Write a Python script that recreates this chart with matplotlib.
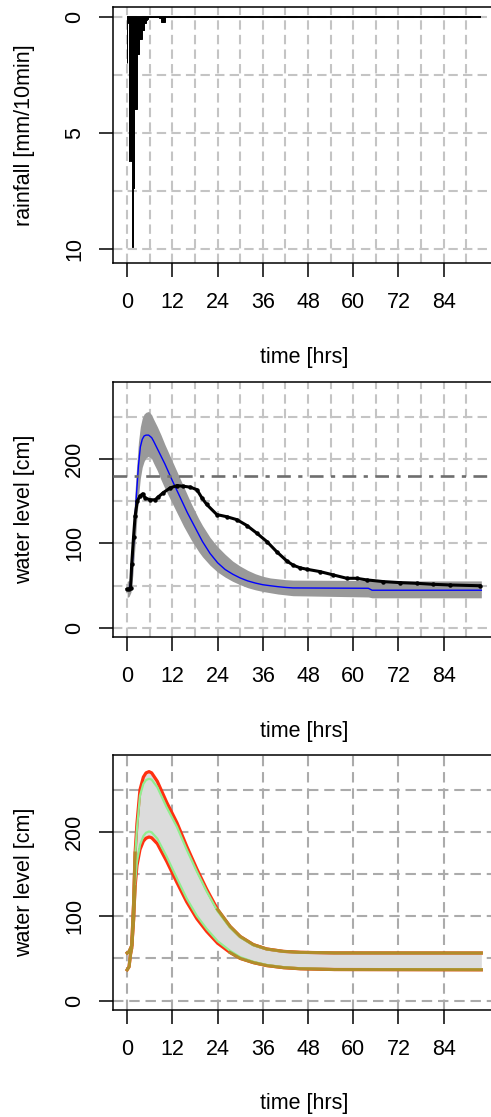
import numpy as np
import matplotlib
matplotlib.use("Agg")
import matplotlib.pyplot as plt

plt.rcParams['font.family'] = ['Liberation Sans', 'DejaVu Sans']
plt.rcParams['font.size'] = 15.5

# rainfall, 10-minute steps starting at t=0
rain_mm = [2.0, 0.1, 0.3, 6.2, 6.2, 6.1, 6.2, 6.2, 9.9, 7.4, 7.4, 7.4,
           4.0, 4.0, 4.0, 4.0, 1.6, 1.6, 1.6, 1.6, 0.95, 0.95, 0.95, 0.95,
           0.6, 0.6, 0.6, 0.6, 0.3, 0.3, 0.25, 0.15, 0.1, 0.05,
           0, 0, 0, 0, 0, 0, 0, 0, 0, 0, 0, 0, 0, 0, 0, 0, 0,
           0.05, 0.05, 0, 0, 0.25, 0.25, 0.25, 0.25, 0.25, 0.2]
t_end = 94.0

# panel 2: simulated median, uncertainty band and observed level
t_sim = [0, 0.5, 1, 1.5, 2, 2.5, 3, 3.5, 4, 4.5, 5, 5.7, 6.5, 7, 8, 9, 10, 11, 12,
         13, 14, 15, 16, 17, 18, 19, 20, 22, 24, 26, 28, 30, 32, 34, 36, 38, 40,
         42, 44, 64, 65, 94]
sim_med = [45.6, 46, 55, 85, 125, 160, 192, 214, 223, 227, 228, 228, 225, 221, 212,
           203, 194, 184, 174, 164.5, 155, 145.5, 136, 127.5, 119, 110.5, 102, 88, 77,
           69, 63.5, 59, 55.5, 53, 51, 49.8, 48.7, 47.8, 47.2, 46.8, 44.5, 44.5]
band_hi = [55, 56, 68, 110, 155, 190, 220, 238, 248, 253, 255, 256, 252, 247, 238,
           228, 217, 207, 197, 187, 177, 167, 157, 147, 138, 129, 121, 107, 96,
           87, 79, 73, 68, 64, 61, 59, 58, 57, 56.5, 56, 55.5, 55.5]
band_lo = [36, 37, 42, 62, 92, 125, 155, 177, 190, 197, 201, 203, 200, 195, 186,
           175, 165, 156, 147, 138, 129, 120, 112, 104, 97, 90, 84, 74, 66, 60,
           55, 51, 47.5, 45, 43, 41.5, 40, 39, 38, 36.5, 35.5, 35.5]

t_obs = [0, 0.5, 0.9, 1.2, 1.7, 2.1, 2.7, 3.4, 4.1, 4.8, 6.1, 7.4, 8.3, 9.6, 11.4,
         13.2, 14.9, 16.7, 18.5, 19.8, 21.1, 23.8, 26.4, 29.1, 31.8, 34.4, 37.1,
         39.7, 42.4, 44.1, 45.9, 47.7, 51.2, 54.7, 58.3, 60.9, 63.6, 68, 72.4, 76.8,
         81.2, 85.7, 93.6]
obs = [45.6, 46, 47, 75, 108, 132, 150, 156, 158.5, 153.5, 151.5, 151.5, 155, 160,
       165.5, 168.3, 167.5, 166.5, 163.5, 154, 146, 134, 131.5, 128, 121, 112, 102,
       90, 79, 74, 71, 69.3, 66.5, 62.6, 58.6, 58.6, 56.7, 54.7, 53.5, 52.7, 51.5,
       50.7, 49.8]
threshold = 180

# panel 3: bounds from two methods
t_b = [0, 0.5, 0.9, 1.2, 1.7, 2.1, 2.6, 3.4, 4.3, 5.0, 5.8, 6.5, 8, 10.5, 13.2,
       15.8, 18.5, 21.1, 24, 27.3, 30, 33.5, 37, 41.5, 46, 55, 94]
up_red = [56.4, 58, 62, 65, 115, 175, 210, 250, 265, 270, 271.5, 270, 260, 235, 211,
          183, 156, 132, 108, 88, 76, 66.3, 61.2, 58.3, 57.2, 56.5, 56.4]
up_green = [56.4, 58, 62, 65, 113, 170, 204, 243, 257, 261.5, 263, 262, 253, 229, 206,
            179, 153, 129.5, 106, 86.5, 75, 65.5, 60.8, 58, 57, 56.4, 56.4]
lo_red = [36.5, 40, 55, 62, 95, 135, 160, 179, 189, 192.5, 194, 193, 186, 165, 140,
          117, 97, 82, 68, 57, 50, 45, 41.5, 39, 37.7, 36.8, 36.5]
lo_green = [36.5, 40, 55, 62, 97, 139, 165, 184.5, 195, 199, 200.5, 199.5, 192, 170.5,
            145, 121, 100.5, 85, 70.5, 59, 51.5, 46, 42.3, 39.6, 38.2, 37.2, 37]

W, H = 491, 1117
fig = plt.figure(figsize=(W / 100, H / 100), dpi=100)

left = 113 / W
width = (495.5 - 113) / W
xlim = (-3.76, 97.76)
xt = [0, 12, 24, 36, 48, 60, 72, 84]


def make_ax(top_px, bot_px):
    ax = fig.add_axes([left, 1 - bot_px / H, width, (bot_px - top_px) / H])
    ax.set_xlim(*xlim)
    ax.set_xticks(xt)
    for s in ax.spines.values():
        s.set_linewidth(1.1)
        s.set_color('black')
    ax.tick_params(axis='both', direction='out', length=10, width=1.1, color='black')
    ax.tick_params(axis='x', pad=11)
    ax.tick_params(axis='y', pad=10)
    ax.annotate('time [hrs]', xy=(0.5, 0), xycoords='axes fraction', xytext=(0, -94),
                textcoords='offset pixels', ha='center', va='center')
    return ax


def ylab(ax, txt):
    ax.annotate(txt, xy=(0, 0.5), xycoords='axes fraction', xytext=(-88, 0),
                textcoords='offset pixels', ha='center', va='center', rotation=90)


grid_kw = dict(color='#c4c4c4', lw=1.5, dashes=(4.5, 2.5), zorder=0)

# ---- rainfall
ax1 = make_ax(7, 263)
rt = np.arange(len(rain_mm)) / 6.0
ax1.set_ylim(10.61, -0.41)
ax1.set_yticks([0, 5, 10])
plt.setp(ax1.get_yticklabels(), rotation=90, va='center')
for g in np.arange(0, 91, 6):
    ax1.axvline(g, **grid_kw)
for g in np.arange(0, 10.1, 2.5):
    ax1.axhline(g, **grid_kw)
ax1.bar(rt, rain_mm, width=1 / 6, color='black', edgecolor='black', lw=0.7, zorder=3)
ax1.hlines(0, 0, t_end, color='black', lw=1.4, zorder=3)
ylab(ax1, 'rainfall [mm/10min]')

# ---- observed vs simulated
ax2 = make_ax(381.7, 637.3)
ax2.set_ylim(-11.2, 291.2)
ax2.set_yticks([0, 100, 200])
plt.setp(ax2.get_yticklabels(), rotation=90, va='center')
for g in np.arange(0, 91, 6):
    ax2.axvline(g, **grid_kw)
for g in np.arange(0, 251, 50):
    ax2.axhline(g, **grid_kw)
ax2.fill_between(t_sim, band_lo, band_hi, color='#999999', lw=0, zorder=2)
ax2.plot(t_sim, sim_med, color='#0000ff', lw=1.0, zorder=3)
ax2.plot(t_obs, obs, color='black', lw=2.2, marker='o', ms=2.2, zorder=4)
ax2.axhline(threshold, color='#6e6e6e', lw=1.9, dashes=(5.2, 2.8, 1.6, 2.8), zorder=5)
ylab(ax2, 'water level [cm]')

# ---- bounds
ax3 = make_ax(755, 1010)
ax3.set_ylim(-11.2, 291.2)
ax3.set_yticks([0, 100, 200])
plt.setp(ax3.get_yticklabels(), rotation=90, va='center')
grid3 = dict(color='#ababab', lw=1.5, dashes=(5, 2.8), zorder=0)
for g in xt:
    ax3.axvline(g, **grid3)
for g in np.arange(0, 251, 50):
    ax3.axhline(g, **grid3)
tb = np.array(t_b)
ax3.fill_between(tb, lo_red, up_red, color='#dcdcdc', lw=0, zorder=1)
ax3.plot(tb, up_red, color='#ff3010', lw=2.3, zorder=3)
ax3.plot(tb, lo_red, color='#ff3010', lw=2.3, zorder=3)
ax3.plot(tb, up_green, color='#90ee90', lw=1.6, zorder=4)
ax3.plot(tb, lo_green, color='#90ee90', lw=1.6, zorder=4)
up_ol = np.ma.masked_where((tb > 2.2) & (tb < 24), up_red)
lo_ol = np.ma.masked_where((tb > 2.2) & (tb < 27), lo_red)
ax3.plot(tb, up_ol, color='#b08d2a', lw=2.2, zorder=5)
ax3.plot(tb, lo_ol, color='#b08d2a', lw=2.2, zorder=5)
ylab(ax3, 'water level [cm]')

fig.savefig('out.png', dpi=100)
